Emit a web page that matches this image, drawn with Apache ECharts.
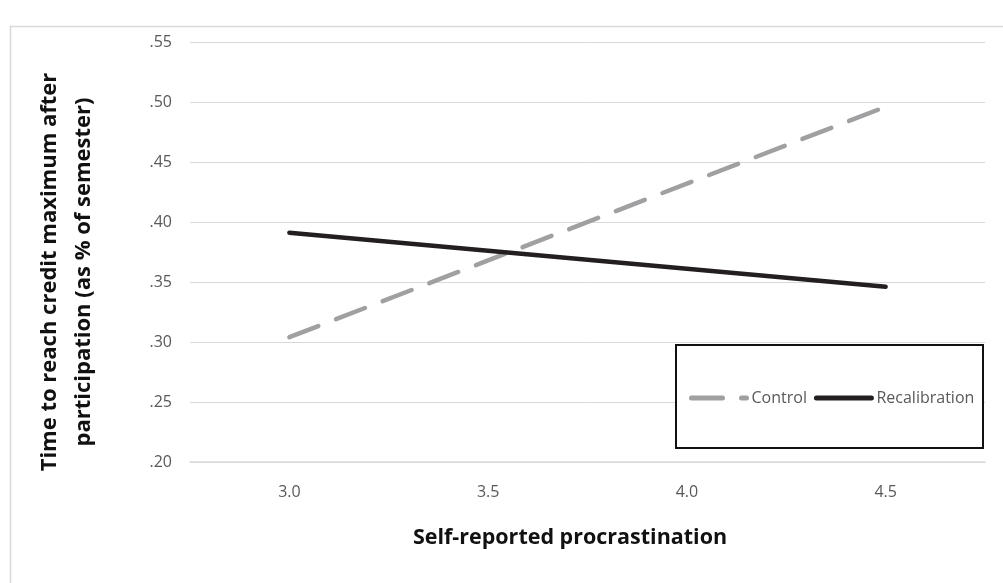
<!DOCTYPE html>
<html>
<head>
<meta charset="utf-8">
<script src="https://cdn.jsdelivr.net/npm/echarts@6/dist/echarts.min.js"></script>
<style>
html,body{margin:0;padding:0;background:#fff;}
#chart{width:1003px;height:583px;}
</style>
</head>
<body>
<div id="chart"></div>
<script>
var categories = ['3.0', '3.5', '4.0', '4.5'];
var controlValues = [0.304, 0.368, 0.432, 0.496];
var recalibrationValues = [0.391, 0.376, 0.361, 0.346];
var seriesNames = ['Control', 'Recalibration'];
var xTitle = 'Self-reported procrastination';
var yTitle = 'Time to reach credit maximum after\nparticipation (as % of semester)';

var FONT = '"Open Sans", "Noto Sans", sans-serif';
var chart = echarts.init(document.getElementById('chart'));
chart.setOption({
  backgroundColor: '#ffffff',
  animation: false,
  grid: { left: 190, right: 18, top: 42, bottom: 121 },
  xAxis: {
    type: 'category',
    data: categories,
    boundaryGap: true,
    axisLine: { lineStyle: { color: '#d9d9d9', width: 1.5 } },
    axisTick: { alignWithLabel: true, length: 5, lineStyle: { color: '#d9d9d9', width: 1.5 } },
    axisLabel: { color: '#595959', fontSize: 16, fontFamily: FONT, margin: 22 }
  },
  yAxis: {
    type: 'value',
    min: 0.2, max: 0.55, interval: 0.05,
    axisLine: { show: false },
    axisTick: { show: false },
    splitLine: { lineStyle: { color: '#d9d9d9', width: 1 } },
    axisLabel: {
      color: '#595959', fontSize: 16, fontFamily: FONT, margin: 18,
      formatter: function (v) { return v.toFixed(2).replace(/^0/, ''); }
    }
  },
  legend: {
    left: 684, top: 385,
    itemWidth: 55, itemHeight: 14, itemGap: 7,
    itemStyle: { color: 'rgba(0,0,0,0)', borderWidth: 0, opacity: 0 },
    lineStyle: { width: 5, cap: 'round' },
    textStyle: { color: '#595959', fontSize: 16, fontFamily: FONT },
    data: seriesNames
  },
  graphic: [
    { type: 'rect', left: 8, top: 24, z: -1, silent: true,
      shape: { width: 1100, height: 700 },
      style: { fill: 'none', stroke: '#d9d9d9', lineWidth: 1.5 } },
    { type: 'rect', left: 675, top: 344, z: 3, silent: true,
      shape: { width: 307, height: 103 },
      style: { fill: '#ffffff', stroke: '#111111', lineWidth: 2 } },
    { type: 'text', z: 5, x: 570, y: 527,
      style: { text: xTitle, fill: '#111111', font: 'bold 21.5px ' + FONT, textAlign: 'center' } },
    { type: 'text', z: 5, rotation: Math.PI / 2,
      x: 67, y: 272,
      style: { text: yTitle, fill: '#111111', font: 'bold 22px ' + FONT, textAlign: 'center', textVerticalAlign: 'middle', lineHeight: 34 } }
  ],
  series: [
    {
      name: seriesNames[0], type: 'line', data: controlValues,
      showSymbol: false, symbol: 'none', z: 2,
      lineStyle: { color: '#a0a0a2', width: 4.5, type: [31, 19], cap: 'round' },
      itemStyle: { color: '#a0a0a2' }
    },
    {
      name: seriesNames[1], type: 'line', data: recalibrationValues,
      showSymbol: false, symbol: 'none', z: 2,
      lineStyle: { color: '#231f20', width: 4.5, cap: 'round' },
      itemStyle: { color: '#231f20' }
    }
  ]
});
</script>
</body>
</html>
